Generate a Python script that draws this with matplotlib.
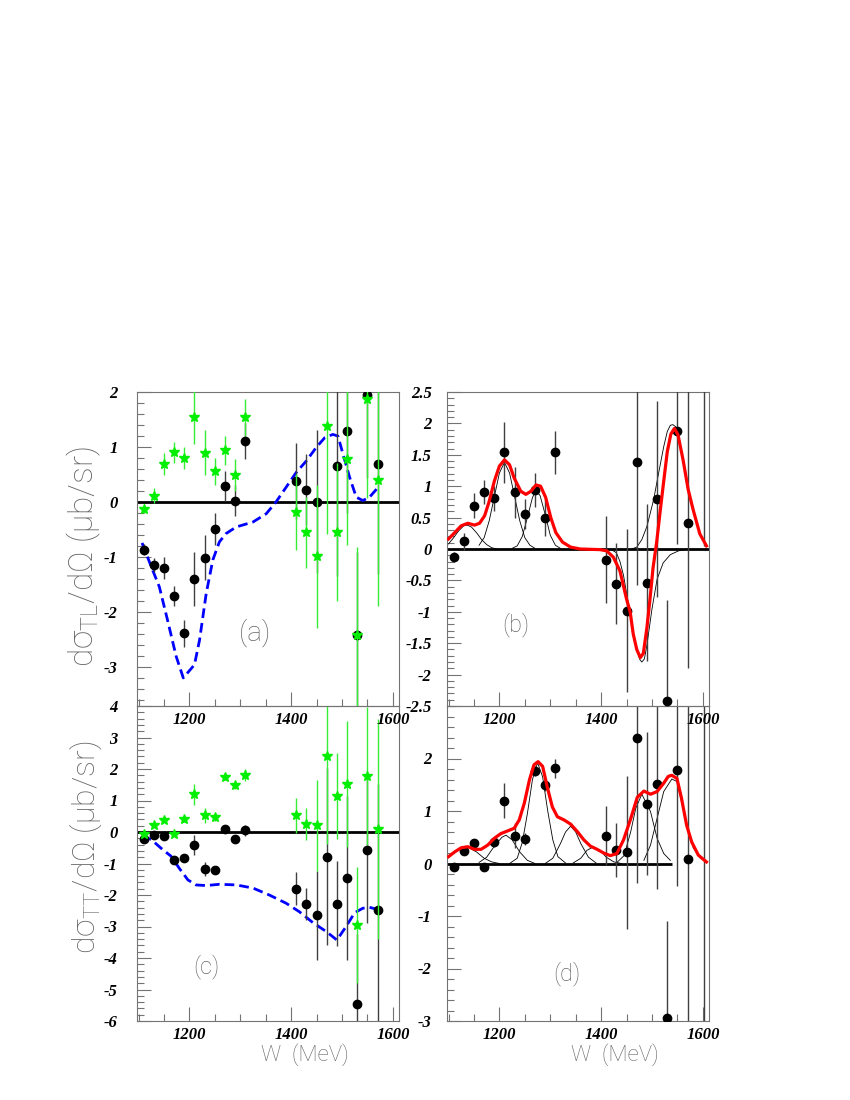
import matplotlib
matplotlib.use('Agg')
import matplotlib.pyplot as plt
from matplotlib.ticker import MultipleLocator, FixedLocator, FuncFormatter

# 字体：刻度数字用粗斜体衬线
plt.rcParams['font.family'] = 'Liberation Serif'
plt.rcParams['font.weight'] = 'bold'
plt.rcParams['font.style'] = 'italic'
plt.rcParams['font.size'] = 12
plt.rcParams['axes.unicode_minus'] = False
plt.rcParams['mathtext.fontset'] = 'custom'
plt.rcParams['mathtext.rm'] = 'Roboto:style=normal:weight=light'

# ======================
# data
# ======================
w = [1110, 1130, 1150, 1170, 1190, 1210, 1230, 1250, 1270, 1290, 1310,
     1410, 1430, 1450, 1470, 1490, 1510, 1530, 1550, 1570]

# (a) black points (1470 off scale)
tl_w = [1110, 1130, 1150, 1170, 1190, 1210, 1230, 1250, 1270, 1290, 1310,
        1410, 1430, 1450, 1490, 1510, 1530, 1550, 1570]
tl_y = [-0.86, -1.14, -1.19, -1.70, -2.38, -1.40, -1.01, -0.48, 0.30, 0.03, 1.11,
        0.38, 0.23, 0.01, 0.66, 1.30, -2.41, 1.94, 0.69]
tl_e = [0.10, 0.12, 0.20, 0.18, 0.24, 0.49, 0.41, 0.29, 0.27, 0.28, 0.33,
        0.69, 0.64, 1.30, 2.0, 1.5, 1.5, 1.5, 2.0]

# (b) points, also green stars in (a)
b_y = [-0.12, 0.12, 0.69, 0.91, 0.81, 1.54, 0.90, 0.56, 0.94, 0.50, 1.54,
       -0.17, -0.55, -0.98, 1.38, -0.54, 0.79, -2.42, 1.88, 0.41]
b_e = [0.08, 0.13, 0.20, 0.19, 0.20, 0.49, 0.41, 0.24, 0.27, 0.29, 0.34,
       0.69, 0.65, 1.30, 1.96, 1.25, 1.56, 1.60, 1.80, 2.30]

# (c) black points
tt_y = [-0.22, -0.08, -0.14, -0.90, -0.83, -0.42, -1.18, -1.22, 0.10, -0.22, 0.05,
        -1.80, -2.28, -2.65, -0.78, -2.28, -1.47, -5.45, -0.58, -2.48]
tt_e = [0.05, 0.05, 0.06, 0.10, 0.08, 0.32, 0.22, 0.10, 0.08, 0.08, 0.18,
        0.53, 0.50, 1.40, 2.80, 1.35, 2.60, 2.20, 2.30, 4.00]

# (d) points, also green stars in (c)
d_y = [-0.06, 0.23, 0.39, -0.06, 0.41, 1.20, 0.53, 0.47, 1.76, 1.49, 1.81,
       0.53, 0.26, 0.21, 2.40, 1.14, 1.52, -2.95, 1.78, 0.09]
d_e = [0.05, 0.05, 0.06, 0.05, 0.10, 0.33, 0.24, 0.12, 0.10, 0.11, 0.19,
       0.56, 0.51, 1.45, 2.78, 1.36, 2.00, 1.85, 2.20, 3.50]

# off-scale point near the right edge of (b) and (d)
edge_w = [1602]
edge_b = [3.6]
edge_b_e = [3.55]
edge_d = [-3.5]
edge_d_e = [7.0]

# blue dashed model curves
blue_a_w = [1107, 1125, 1141, 1157, 1174, 1188, 1210, 1220, 1233, 1246, 1259, 1272,
            1292, 1325, 1351, 1370, 1390, 1410, 1430, 1449, 1466, 1482, 1492, 1502,
            1515, 1528, 1541, 1554, 1572]
blue_a_y = [-0.74, -1.17, -1.54, -2.14, -2.80, -3.19, -2.95, -2.50, -1.66, -1.05, -0.72, -0.57,
            -0.45, -0.36, -0.21, 0.0, 0.27, 0.54, 0.75, 0.99, 1.17, 1.23, 1.20, 0.87,
            0.45, 0.09, 0.03, 0.09, 0.28]
blue_c_w = [1107, 1125, 1144, 1164, 1180, 1197, 1213, 1233, 1259, 1292, 1325, 1357,
            1390, 1416, 1443, 1469, 1490, 1508, 1525, 1541, 1554, 1572]
blue_c_y = [-0.12, -0.24, -0.51, -0.77, -1.15, -1.52, -1.68, -1.70, -1.66, -1.68, -1.78, -2.00,
            -2.26, -2.53, -2.88, -3.16, -3.43, -3.00, -2.56, -2.42, -2.39, -2.47]

# red fit (b) and its components
red_b_w = [1100, 1112, 1125, 1138, 1151, 1161, 1171, 1180, 1190, 1200, 1210, 1220,
           1229, 1242, 1252, 1262, 1272, 1281, 1291, 1301, 1311, 1324, 1340, 1359,
           1398, 1411, 1424, 1437, 1450, 1457, 1463, 1470, 1477, 1483, 1490, 1496,
           1502, 1509, 1516, 1523, 1530, 1537, 1544, 1551, 1561, 1571, 1581, 1594, 1607]
red_b_y = [0.16, 0.26, 0.37, 0.41, 0.38, 0.41, 0.53, 0.76, 1.08, 1.32, 1.42, 1.34,
           1.13, 0.92, 0.87, 0.92, 1.02, 1.00, 0.82, 0.50, 0.26, 0.11, 0.03, 0.0,
           -0.01, -0.03, -0.13, -0.35, -0.80, -1.00, -1.35, -1.60, -1.73, -1.66, -1.25, -0.80,
           -0.30, 0.10, 0.60, 1.08, 1.55, 1.83, 1.92, 1.82, 1.42, 0.95, 0.62, 0.24, 0.05]
comp_b = [
    ([1100, 1110, 1120, 1130, 1137, 1145, 1155, 1165, 1175, 1185, 1195],
     [0.08, 0.18, 0.29, 0.37, 0.38, 0.35, 0.26, 0.15, 0.07, 0.02, 0.0]),
    ([1160, 1170, 1180, 1190, 1200, 1210, 1220, 1230, 1240, 1250, 1260, 1270],
     [0.06, 0.18, 0.45, 0.83, 1.21, 1.38, 1.21, 0.83, 0.45, 0.18, 0.06, 0.01]),
    ([1225, 1235, 1245, 1255, 1265, 1272, 1280, 1290, 1300, 1310, 1320],
     [0.01, 0.05, 0.20, 0.50, 0.82, 0.93, 0.85, 0.55, 0.22, 0.06, 0.01]),
    ([1420, 1430, 1437, 1444, 1450, 1457, 1463, 1470, 1476, 1480, 1485, 1490, 1500,
      1510, 1522, 1536, 1552, 1570],
     [-0.01, -0.06, -0.20, -0.42, -0.71, -1.02, -1.34, -1.60, -1.76, -1.80, -1.75, -1.53, -0.95,
      -0.48, -0.22, -0.09, -0.03, 0.0]),
    ([1460, 1470, 1480, 1490, 1503, 1513, 1523, 1530, 1536, 1541, 1546, 1551, 1561,
      1571, 1581, 1594, 1607],
     [0.0, 0.03, 0.15, 0.36, 0.78, 1.21, 1.63, 1.87, 1.97, 1.98, 1.95, 1.86, 1.45,
      0.97, 0.62, 0.25, 0.05]),
]

# red fit (d) and its components
red_d_w = [1100, 1112, 1125, 1138, 1151, 1164, 1177, 1190, 1203, 1216, 1229, 1239,
           1249, 1259, 1268, 1276, 1285, 1294, 1304, 1314, 1327, 1340, 1353, 1366,
           1379, 1392, 1405, 1418, 1431, 1444, 1458, 1471, 1484, 1497, 1510, 1523,
           1532, 1539, 1549, 1558, 1568, 1578, 1591, 1607]
red_d_y = [0.13, 0.22, 0.30, 0.32, 0.27, 0.27, 0.35, 0.48, 0.57, 0.62, 0.67, 0.83,
           1.15, 1.59, 1.88, 1.94, 1.85, 1.46, 1.08, 0.89, 0.83, 0.75, 0.61, 0.45,
           0.33, 0.27, 0.20, 0.15, 0.19, 0.45, 0.85, 1.26, 1.38, 1.32, 1.37, 1.53,
           1.66, 1.68, 1.62, 1.24, 0.73, 0.41, 0.16, 0.03]
comp_d = [
    ([1100, 1115, 1130, 1140, 1155, 1170, 1185, 1200],
     [0.12, 0.23, 0.30, 0.30, 0.22, 0.10, 0.03, 0.0]),
    ([1160, 1175, 1190, 1205, 1213, 1225, 1240, 1255, 1270],
     [0.02, 0.12, 0.33, 0.50, 0.54, 0.45, 0.22, 0.06, 0.0]),
    ([1220, 1235, 1245, 1255, 1265, 1275, 1285, 1295, 1305, 1315, 1330],
     [0.0, 0.10, 0.40, 0.95, 1.60, 1.92, 1.65, 1.00, 0.45, 0.13, 0.01]),
    ([1290, 1305, 1320, 1330, 1340, 1350, 1360, 1375, 1390],
     [0.0, 0.10, 0.38, 0.60, 0.71, 0.60, 0.38, 0.12, 0.01]),
    ([1345, 1360, 1372, 1385, 1398, 1410, 1425, 1440],
     [0.01, 0.10, 0.25, 0.32, 0.25, 0.12, 0.03, 0.0]),
    ([1430, 1445, 1458, 1468, 1480, 1497, 1510, 1523, 1536],
     [0.01, 0.15, 0.60, 1.05, 1.32, 0.99, 0.48, 0.19, 0.06]),
    ([1484, 1497, 1510, 1523, 1539, 1549, 1558, 1568, 1581, 1594, 1607],
     [0.06, 0.35, 0.86, 1.37, 1.61, 1.56, 1.17, 0.73, 0.30, 0.11, 0.03]),
]
d_zero_end = 1540

xlim = (1097, 1612)

# ======================
# figure
# ======================
fig = plt.figure(figsize=(8.5, 11), dpi=100)
W, H = 850.0, 1100.0
ax_c = fig.add_axes([137 / W, 1 - 1021 / H, 262 / W, 315 / H])
ax_d = fig.add_axes([447 / W, 1 - 1021 / H, 262 / W, 315 / H])
ax_a = fig.add_axes([137 / W, 1 - 706 / H, 262 / W, 314 / H])
ax_b = fig.add_axes([447 / W, 1 - 706 / H, 262 / W, 314 / H])

fmt = FuncFormatter(lambda v, p: '%g' % round(v, 2))


def style(ax, ylim, major, minor, ypad):
    ax.set_facecolor('none')
    ax.set_xlim(*xlim)
    ax.set_ylim(*ylim)
    ax.xaxis.set_major_locator(FixedLocator([1200, 1400, 1600]))
    ax.xaxis.set_minor_locator(MultipleLocator(50))
    ax.yaxis.set_major_locator(major)
    ax.yaxis.set_minor_locator(minor)
    ax.yaxis.set_major_formatter(fmt)
    ax.tick_params(which='both', direction='in', top=False, right=False,
                   color='0.45', labelcolor='black')
    ax.tick_params(which='major', length=10, width=0.8)
    ax.tick_params(which='minor', length=5, width=0.8)
    ax.tick_params(axis='y', pad=ypad)
    ax.tick_params(axis='x', pad=4)
    for s in ax.spines.values():
        s.set_color('0.45')
        s.set_linewidth(0.8)


style(ax_a, (-3.7, 2), MultipleLocator(1), MultipleLocator(0.2), 14)
style(ax_b, (-2.5, 2.5), MultipleLocator(0.5), MultipleLocator(0.1), 11)
style(ax_c, (-6, 4), MultipleLocator(1), MultipleLocator(0.2), 14)
style(ax_d, (-3, 3), FixedLocator([-3, -2, -1, 0, 1, 2]), MultipleLocator(0.2), 11)

black_kw = dict(fmt='o', color='black', ms=6, ecolor='0.25', elinewidth=1, capsize=0, zorder=3)
green_kw = dict(fmt='*', color='#00ee00', ms=7, ecolor='#33ee33', elinewidth=1, capsize=0, zorder=4)

# (a)
ax_a.axhline(0, color='black', lw=2, zorder=2)
ax_a.plot(blue_a_w, blue_a_y, color='#0000ff', lw=2, dashes=(3.5, 1.8), zorder=2)
ax_a.errorbar(tl_w, tl_y, yerr=tl_e, **black_kw)
ax_a.errorbar(w, b_y, yerr=b_e, **green_kw)

# (b)
ax_b.axhline(0, color='black', lw=2, zorder=2)
for cw, cy in comp_b:
    ax_b.plot(cw, cy, color='black', lw=0.6, zorder=2)
ax_b.errorbar(w, b_y, yerr=b_e, **black_kw)
ax_b.errorbar(edge_w, edge_b, yerr=edge_b_e, **black_kw)
ax_b.plot(red_b_w, red_b_y, color='#ff0000', lw=2.3, zorder=5)

# (c)
ax_c.axhline(0, color='black', lw=2, zorder=2)
ax_c.plot(blue_c_w, blue_c_y, color='#0000ff', lw=2, dashes=(3.5, 1.8), zorder=2)
ax_c.errorbar(w, tt_y, yerr=tt_e, **black_kw)
ax_c.errorbar(w, d_y, yerr=d_e, **green_kw)

# (d)
ax_d.hlines(0, xlim[0], d_zero_end, color='black', lw=2, zorder=2)
for cw, cy in comp_d:
    ax_d.plot(cw, cy, color='black', lw=0.6, zorder=2)
ax_d.errorbar(w, d_y, yerr=d_e, **black_kw)
ax_d.errorbar(edge_w, edge_d, yerr=edge_d_e, **black_kw)
ax_d.plot(red_d_w, red_d_y, color='#ff0000', lw=2.3, zorder=5)

# labels
lab = dict(family='Roboto', weight='light', style='normal', color='0.4')
fig.text(84 / W, 1 - 557 / H, 'd\u03c3$_{\\rm TL}$/d\u03a9 (\u03bcb/sr)', rotation=90,
         ha='center', va='center', fontsize=24, **lab)
fig.text(86 / W, 1 - 847 / H, 'd\u03c3$_{\\rm TT}$/d\u03a9 (\u03bcb/sr)', rotation=90,
         ha='center', va='center', fontsize=23, **lab)
fig.text(305 / W, 1 - 1055 / H, 'W  (MeV)', ha='center', va='center', fontsize=16, **lab)
fig.text(615 / W, 1 - 1055 / H, 'W  (MeV)', ha='center', va='center', fontsize=16, **lab)
fig.text(255 / W, 1 - 633 / H, '(a)', ha='center', va='center', fontsize=20, **lab)
fig.text(516 / W, 1 - 625 / H, '(b)', ha='center', va='center', fontsize=17, **lab)
fig.text(206 / W, 1 - 967 / H, '(c)', ha='center', va='center', fontsize=17, **lab)
fig.text(567 / W, 1 - 974 / H, '(d)', ha='center', va='center', fontsize=17, **lab)

fig.savefig('out.png', dpi=100)
